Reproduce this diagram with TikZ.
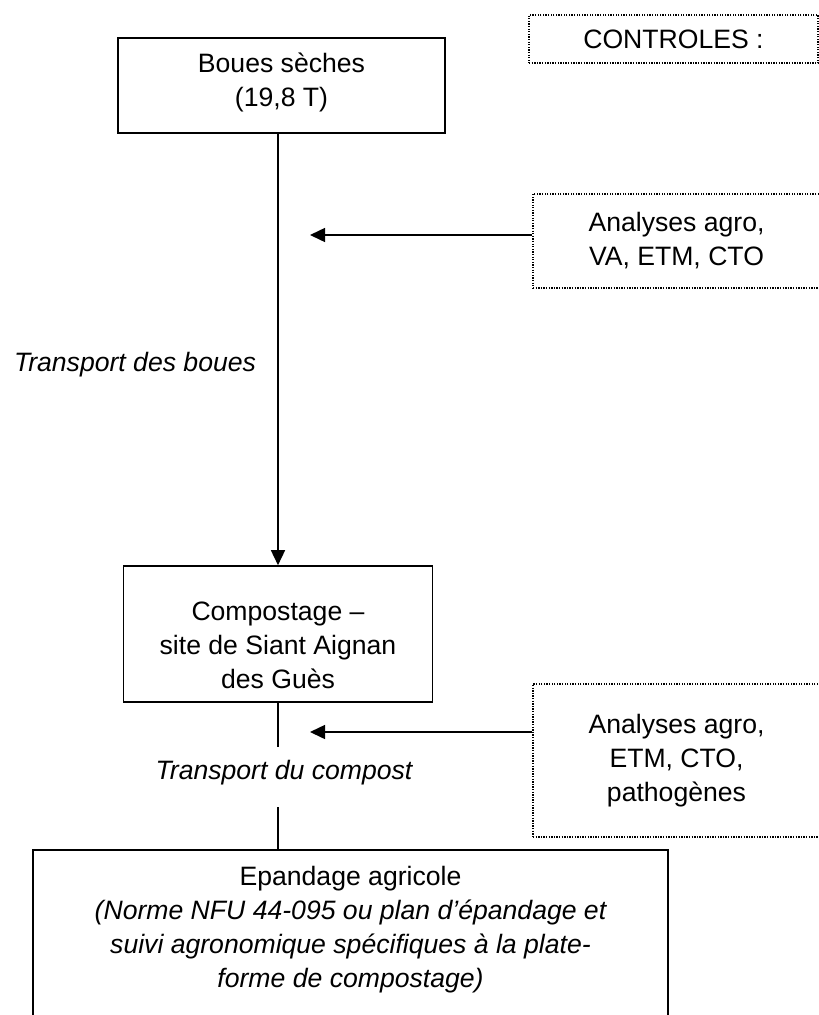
\documentclass[tikz,border=0pt]{standalone}
\usepackage{fontspec}
\setmainfont{Liberation Sans}
\usetikzlibrary{positioning,arrows.meta}

\begin{document}
\begin{tikzpicture}[x=1pt, y=-1pt,
    every node/.style={font=\fontsize{26.6}{34}\selectfont, align=center},
    box/.style={draw, line width=1.6pt, inner sep=0pt},
    ctrlbox/.style={draw, line width=1.3pt, dash pattern=on 1.3pt off 1.3pt, inner sep=0pt},
    link/.style={line width=1.5pt},
    tip/.style={-{Triangle[length=15pt, width=14pt]}}]
    \useasboundingbox (0,0) rectangle (819,1015);
    \clip (0,0) rectangle (819,1015);

    % Main chain
    \node[box, minimum width=327pt, minimum height=95pt] (boues) at (281.5,85.5) {};
    \node (bouestxt) at (281.5,82) {Boues sèches\\(19,8 T)};

    \node[box, minimum width=309pt, minimum height=136pt] (compost) at (278,634) {};
    \node (composttxt) at (278,645) {Compostage –\\site de Siant Aignan\\des Guès};

    \node[box, minimum width=635pt, minimum height=200pt, anchor=north] (epandage) at (350.5,849) {};
    \node (epandagetxt) at (350.5,929.5) {Epandage agricole\\
        \itshape (Norme NFU 44-095 ou plan d’épandage et\\
        \itshape suivi agronomique spécifiques à la plate-\\
        \itshape forme de compostage)};

    % Controls
    \node[ctrlbox, minimum width=289pt, minimum height=48pt] (ctrl) at (673.5,39) {CONTROLES :};
    \node[ctrlbox, minimum width=287pt, minimum height=94pt] (ana1) at (676.5,241) {Analyses agro,\\VA, ETM, CTO};
    \node[ctrlbox, minimum width=287pt, minimum height=153pt] (ana2) at (676.5,760.5) {Analyses agro,\\ETM, CTO,\\pathogènes};

    % Transport labels
    \node (tboues) at (135,365) {\itshape Transport des boues};
    \node (tcompost) at (284,773) {\itshape Transport du compost};

    \coordinate (tip1) at (310,235);
    \coordinate (tip2) at (310,732);
    \coordinate (c1) at (278,747);
    \coordinate (c2) at (278,807);

    % Connectors
    \draw[link, tip] (boues.south -| compost.north) -- (compost.north);
    \draw[link] (compost.south) -- (c1);
    \draw[link] (c2) -- (c2 |- epandage.north);
    \draw[link, tip] (ana1.west |- tip1) -- (tip1);
    \draw[link, tip] (ana2.west |- tip2) -- (tip2);
\end{tikzpicture}
\end{document}
